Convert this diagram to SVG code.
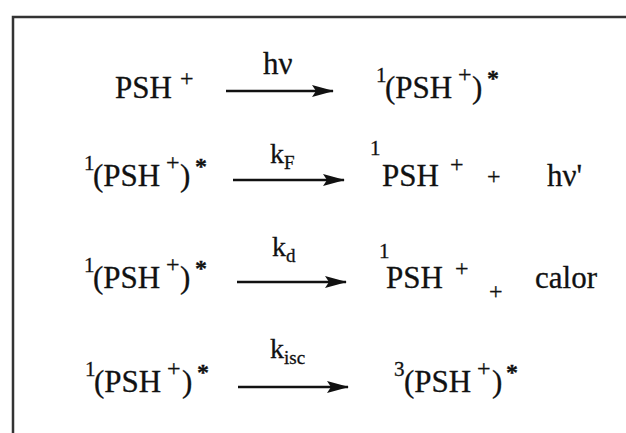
<svg xmlns="http://www.w3.org/2000/svg" width="626" height="433" viewBox="0 0 626 433">
<style>
text{font-family:'Liberation Serif','Times New Roman',Times,serif;fill:#111;stroke:#111;stroke-width:0.3}
.m{font-size:31px}
.s{font-size:21px}
.p{font-size:24px}
.st{font-size:24px;font-weight:bold}
.l{font-size:28px}
.hv{font-size:31px}
.ls{font-size:19px}
.arr{stroke:#111;stroke-width:2.6;fill:none}
.frame{stroke:#333;stroke-width:2.5;fill:none}
</style>
<defs>
<marker id="ah" markerWidth="22" markerHeight="14" refX="21" refY="7" orient="auto" markerUnits="userSpaceOnUse">
<path d="M0,1 L22,7 L0,13 L4,7 Z" fill="#111"/>
</marker>
</defs>
<rect width="626" height="433" fill="#fff"/>
<path class="frame" d="M13,433 V17 H626"/>

<!-- Row 1 -->
<g id="r1-reactant">
<text class="m" x="115" y="98">PSH</text>
<text class="p" x="180" y="86">+</text>
</g>
<g id="r1-label"><text class="hv" x="263" y="74">hν</text></g>
<g id="r1-product">
<text class="s" x="376" y="82">1</text>
<text class="m" x="385" y="98">(PSH</text>
<text class="p" x="458" y="82">+</text>
<text class="m" x="472" y="98">)</text>
<text class="st" x="487" y="86">*</text>
</g>

<!-- Row 2 -->
<g id="r2-reactant">
<text class="s" x="84" y="170">1</text>
<text class="m" x="93" y="186">(PSH</text>
<text class="p" x="166" y="170">+</text>
<text class="m" x="180" y="186">)</text>
<text class="st" x="195" y="174">*</text>
</g>
<g id="r2-label"><text class="l" x="270" y="163">k</text><text class="ls" x="284" y="169">F</text></g>
<g id="r2-product">
<text class="s" x="370" y="155">1</text>
<text class="m" x="382" y="186">PSH</text>
<text class="p" x="450" y="172">+</text>
<text class="p" x="487" y="184">+</text>
<text class="m" x="547" y="186">hν'</text>
</g>

<!-- Row 3 -->
<g id="r3-reactant">
<text class="s" x="84" y="272">1</text>
<text class="m" x="93" y="288">(PSH</text>
<text class="p" x="166" y="272">+</text>
<text class="m" x="180" y="288">)</text>
<text class="st" x="195" y="276">*</text>
</g>
<g id="r3-label"><text class="l" x="272" y="256">k</text><text class="ls" x="286" y="262">d</text></g>
<g id="r3-product">
<text class="s" x="379" y="258">1</text>
<text class="m" x="386" y="288">PSH</text>
<text class="p" x="455" y="276">+</text>
<text class="p" x="489" y="299">+</text>
<text class="m" x="535" y="288">calor</text>
</g>

<!-- Row 4 -->
<g id="r4-reactant">
<text class="s" x="85" y="376">1</text>
<text class="m" x="94" y="392">(PSH</text>
<text class="p" x="167" y="376">+</text>
<text class="m" x="182" y="392">)</text>
<text class="st" x="197" y="380">*</text>
</g>
<g id="r4-label"><text class="l" x="270" y="358">k</text><text class="ls" x="284" y="364">isc</text></g>
<g id="r4-product">
<text class="s" x="394" y="376">3</text>
<text class="m" x="404" y="392">(PSH</text>
<text class="p" x="477" y="376">+</text>
<text class="m" x="492" y="392">)</text>
<text class="st" x="506" y="380">*</text>
</g>

<g id="connectors">
<line class="arr" x1="226" y1="91" x2="333" y2="91" marker-end="url(#ah)"/>
<line class="arr" x1="233" y1="180" x2="344" y2="180" marker-end="url(#ah)"/>
<line class="arr" x1="237" y1="282" x2="346" y2="282" marker-end="url(#ah)"/>
<line class="arr" x1="238" y1="387" x2="348" y2="387" marker-end="url(#ah)"/>
</g>
</svg>
